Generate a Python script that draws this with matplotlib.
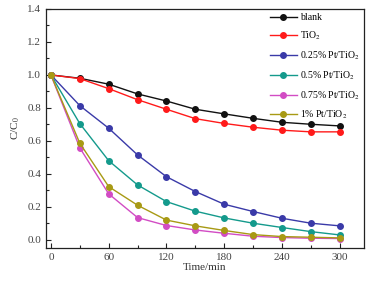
import matplotlib
matplotlib.use("Agg")
from matplotlib import pyplot as plt
from matplotlib.ticker import MultipleLocator

plt.rcParams['font.family'] = ['Liberation Serif', 'DejaVu Serif']
plt.rcParams['mathtext.fontset'] = 'stix'

time = [0, 30, 60, 90, 120, 150, 180, 210, 240, 270, 300]
blank = [1.0, 0.98, 0.944, 0.885, 0.842, 0.792, 0.764, 0.737, 0.713, 0.701, 0.691]
tio2 = [1.0, 0.978, 0.917, 0.85, 0.792, 0.735, 0.706, 0.683, 0.665, 0.655, 0.655]
pt025 = [1.0, 0.814, 0.677, 0.515, 0.383, 0.293, 0.216, 0.172, 0.131, 0.101, 0.085]
pt05 = [1.0, 0.705, 0.48, 0.333, 0.232, 0.174, 0.133, 0.101, 0.075, 0.05, 0.03]
pt075 = [1.0, 0.558, 0.279, 0.135, 0.087, 0.06, 0.04, 0.022, 0.014, 0.01, 0.008]
pt1 = [1.0, 0.586, 0.323, 0.21, 0.12, 0.085, 0.057, 0.032, 0.02, 0.016, 0.012]

series = [blank, tio2, pt025, pt05, pt075, pt1]
labels = ["blank", "TiO$_2$", "0.25% Pt/TiO$_2$", "0.5% Pt/TiO$_2$",
          "0.75% Pt/TiO$_2$", "1% Pt/TiO$_2$"]
colors = ["#111111", "#ff1a1a", "#3a3aa8", "#149a8c", "#d24cc4", "#a89a14"]

fig = plt.figure(figsize=(3.72, 2.81), dpi=100)
ax = fig.add_axes([0.124, 0.117, 0.854, 0.851])

for y, lab, c in zip(series, labels, colors):
    ax.plot(time, y, color=c, lw=1.0, marker='o', ms=4,
            markeredgecolor=c, markerfacecolor=c, label=lab)

ax.set_xlim(-5, 325)
ax.set_ylim(-0.05, 1.4)
ax.set_xticks([0, 60, 120, 180, 240, 300])
ax.xaxis.set_minor_locator(MultipleLocator(30))
ax.set_yticks([0.0, 0.2, 0.4, 0.6, 0.8, 1.0, 1.2, 1.4])
ax.yaxis.set_minor_locator(MultipleLocator(0.1))
ax.tick_params(direction='in', which='both', labelsize=8, color='#222222', labelcolor='#444444')
ax.tick_params(which='major', length=3.5, width=0.8)
ax.tick_params(which='minor', length=2, width=0.8)
ax.tick_params(top=False, right=False, which='both')
ax.yaxis.set_major_formatter(matplotlib.ticker.FormatStrFormatter('%.1f'))
for s in ax.spines.values():
    s.set_linewidth(0.9)
    s.set_color('#222222')

ax.set_xlabel("Time/min", fontsize=8, labelpad=1, color='#333333')
ax.set_ylabel("C/C$_0$", fontsize=8, labelpad=4, color='#333333')

ax.legend(loc='upper right', frameon=False, fontsize=7, handlelength=2.8,
          labelspacing=0.75, borderaxespad=0.05, handletextpad=0.3)

fig.savefig("out.png", dpi=100)
